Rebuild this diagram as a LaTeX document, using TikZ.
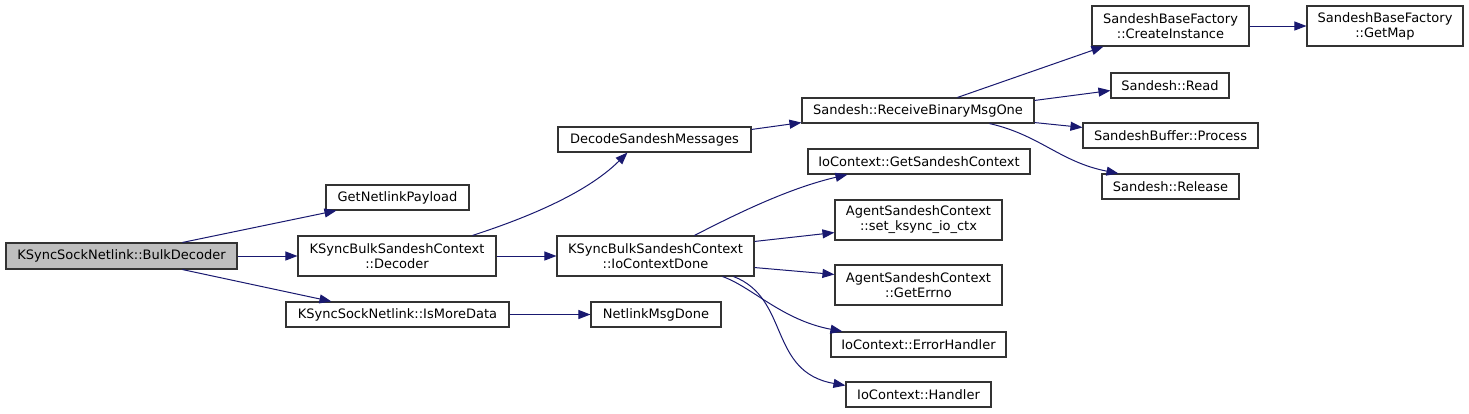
\documentclass[tikz,border=0pt]{standalone}
\usepackage{fontspec}
\setmainfont{DejaVu Sans}
\usetikzlibrary{arrows.meta,calc}
\definecolor{edgecol}{HTML}{191970}
\definecolor{boxline}{HTML}{333333}
\tikzset{
  fn/.style={draw=boxline, line width=1.1pt, fill=white, inner sep=0pt, align=center,
    font=\fontsize{13}{15}\selectfont, minimum height=25pt},
  fn2/.style={fn, minimum height=40pt},
  cur/.style={fn, fill=black!25},
  call/.style={draw=edgecol, line width=1pt, -{Triangle[length=12pt,width=9pt]}, shorten >=0pt},
}
\begin{document}
\begin{tikzpicture}[x=1pt,y=-1pt]
\useasboundingbox[fill=white] (0,0) rectangle (1469,413);
% nodes
\node[cur, minimum width=231pt, minimum height=26pt] (bd) at (121.5,256) {KSyncSockNetlink::BulkDecoder};
\node[fn, minimum width=143pt] (gnp) at (397.5,197.5) {GetNetlinkPayload};
\node[fn2, minimum width=198pt] (dec) at (397,256) {KSyncBulkSandeshContext\\::Decoder};
\node[fn, minimum width=223pt] (imd) at (397.5,314.5) {KSyncSockNetlink::IsMoreData};
\node[fn, minimum width=130pt] (nmd) at (656,314.5) {NetlinkMsgDone};
\node[fn, minimum width=193pt] (dsm) at (654.5,139.5) {DecodeSandeshMessages};
\node[fn2, minimum width=197pt] (icd) at (655.5,256) {KSyncBulkSandeshContext\\::IoContextDone};
\node[fn, minimum width=232pt] (rbm) at (918,110.5) {Sandesh::ReceiveBinaryMsgOne};
\node[fn, minimum width=222pt] (gsc) at (919,161.5) {IoContext::GetSandeshContext};
\node[fn2, minimum width=167pt] (sk) at (918.5,220) {AgentSandeshContext\\::set\_ksync\_io\_ctx};
\node[fn2, minimum width=167pt] (ge) at (918.5,285) {AgentSandeshContext\\::GetErrno};
\node[fn, minimum width=175pt] (eh) at (918.5,344.5) {IoContext::ErrorHandler};
\node[fn, minimum width=145pt] (hd) at (918.5,394.5) {IoContext::Handler};
\node[fn2, minimum width=157pt] (ci) at (1170.5,26) {SandeshBaseFactory\\::CreateInstance};
\node[fn2, minimum width=156pt] (gm) at (1385,26) {SandeshBaseFactory\\::GetMap};
\node[fn, minimum width=118pt] (rd) at (1170,85.5) {Sandesh::Read};
\node[fn, minimum width=175pt] (sbp) at (1170.5,135.5) {SandeshBuffer::Process};
\node[fn, minimum width=137pt] (rl) at (1170.5,186.5) {Sandesh::Release};
% edges
\draw[call] ($(bd.north west)+(177,0)$) -- ($(gnp.south west)+(11,0)$);
\draw[call] (bd.east) -- (dec.west);
\draw[call] ($(bd.south west)+(177,0)$) -- ($(imd.north west)+(46,0)$);
\draw[call] ($(dec.north west)+(175,0)$) .. controls (520,220) and (585,195) .. ($(dsm.south west)+(70,0)$);
\draw[call] (dec.east) -- (icd.west);
\draw[call] (imd.east) -- (nmd.west);
\draw[call] ($(dsm.north east)+(0,3)$) -- ($(rbm.south west)+(0,-1)$);
\draw[call] ($(rbm.north west)+(156,0)$) -- ($(ci.south west)+(12,0)$);
\draw[call] ($(rbm.north east)+(0,3)$) -- ($(rd.south west)+(0,-8)$);
\draw[call] ($(rbm.south east)+(0,-1)$) -- ($(sbp.north west)+(0,5)$);
\draw[call] ($(rbm.south west)+(188,0)$) .. controls (1040,135) and (1060,162) .. ($(rl.north west)+(17,0)$);
\draw[call] (ci.east) -- (gm.west);
\draw[call] ($(icd.north west)+(138,0)$) .. controls (740,212) and (790,188) .. ($(gsc.south west)+(40,0)$);
\draw[call] ($(icd.north east)+(0,6)$) -- ($(sk.south west)+(0,-8)$);
\draw[call] ($(icd.south east)+(0,-9)$) -- ($(ge.north west)+(0,10)$);
\draw[call] ($(icd.south east)+(-32,0)$) .. controls (752,287) and (782,320) .. ($(eh.north west)+(12,0)$);
\draw[call] ($(icd.south east)+(-21,0)$) .. controls (790,298) and (768,372) .. ($(hd.north west)+(0,4)$);
\end{tikzpicture}
\end{document}
